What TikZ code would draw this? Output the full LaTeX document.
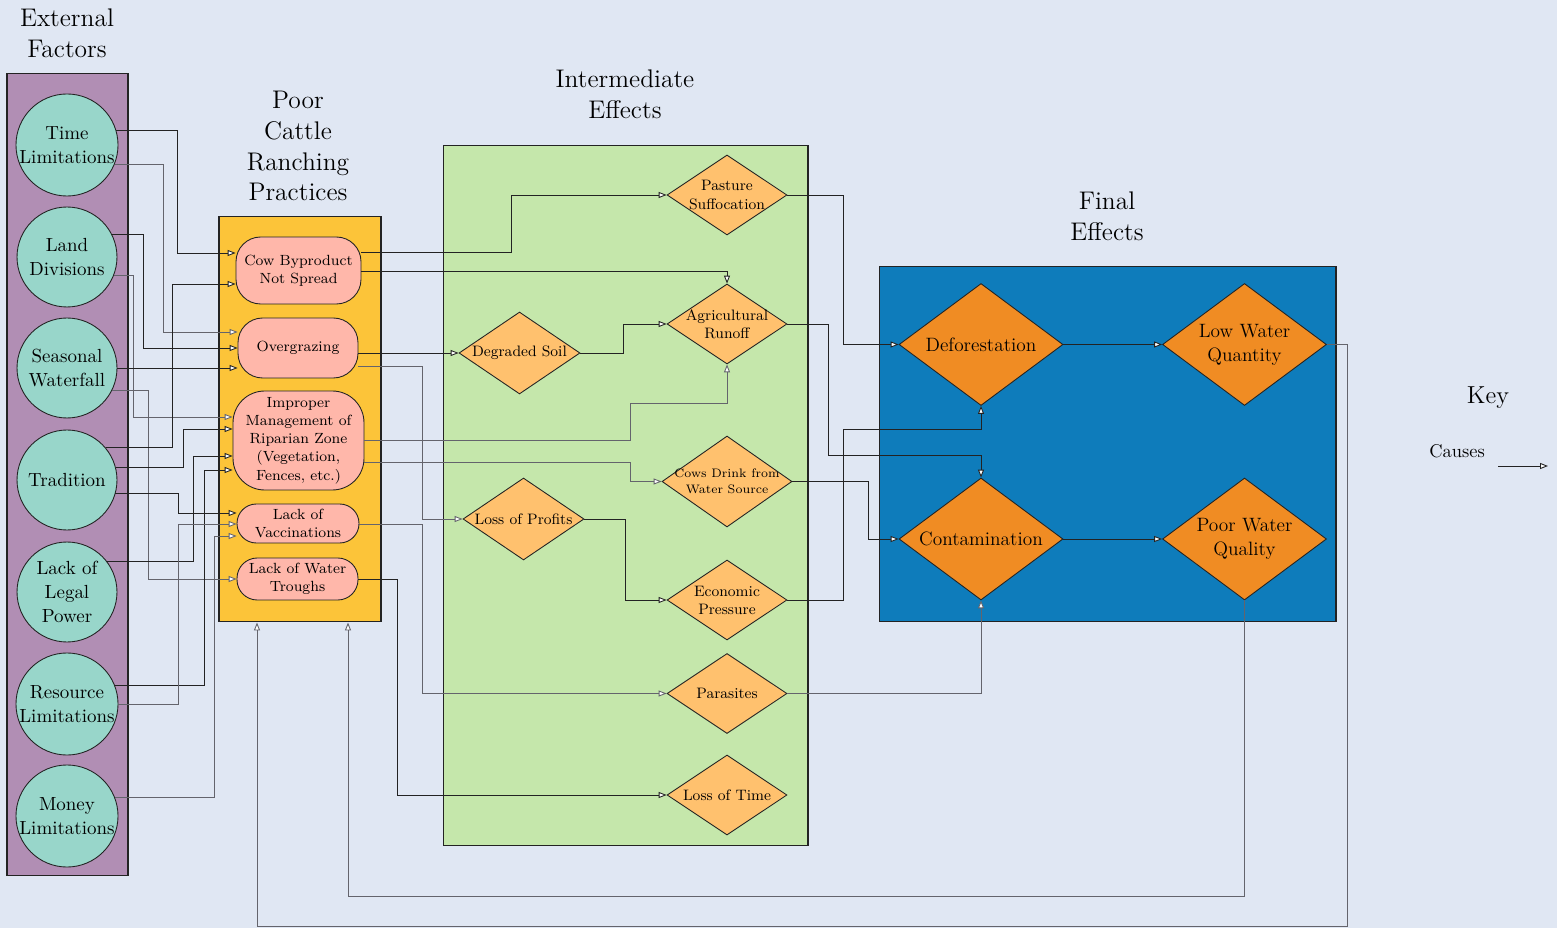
\documentclass[tikz,border=0pt]{standalone}
\usepackage{tikz}
\usetikzlibrary{shapes.geometric, arrows.meta, positioning, calc}
\definecolor{pagebg}{RGB}{224, 231, 243}
\definecolor{factorpurple}{RGB}{177, 142, 180}
\definecolor{factorteal}{RGB}{152, 214, 202}
\definecolor{ranchyellow}{RGB}{252, 196, 57}
\definecolor{ranchpink}{RGB}{255, 183, 170}
\definecolor{midgreen}{RGB}{197, 231, 171}
\definecolor{midorange}{RGB}{255, 193, 110}
\definecolor{finalblue}{RGB}{14, 124, 187}
\definecolor{finalorange}{RGB}{240, 140, 35}
\definecolor{wire}{RGB}{35, 35, 35}
\definecolor{wiregray}{RGB}{100, 100, 108}

\begin{document}
\begin{tikzpicture}[x=0.02cm, y=-0.02cm,
    panel/.style={rectangle, draw=wire, line width=0.6pt, inner sep=0pt},
    title/.style={font=\fontsize{14.5}{17.6}\selectfont, align=center},
    factor/.style={circle, draw=wire, line width=0.5pt, fill=factorteal, minimum size=2cm, inner sep=0pt, align=center, font=\fontsize{10.8}{13.6}\selectfont},
    practice/.style={rectangle, rounded corners=14pt, draw=wire, line width=0.5pt, fill=ranchpink, inner sep=1pt, align=center, font=\fontsize{8.4}{10.4}\selectfont},
    effect/.style={diamond, draw=wire, line width=0.5pt, fill=midorange, minimum width=2.4cm, minimum height=1.6cm, inner sep=0pt},
    final/.style={diamond, draw=wire, line width=0.5pt, fill=finalorange, minimum width=3.28cm, minimum height=2.44cm, inner sep=0pt},
    efftext/.style={font=\fontsize{8.6}{10.3}\selectfont, align=center},
    fintext/.style={font=\fontsize{11}{13.6}\selectfont, align=center},
    cause/.style={draw=wire, line width=0.5pt, -{Triangle[length=4.5pt, width=3.4pt, fill=white]}},
    cause2/.style={cause, draw=wiregray}
]
    \fill[pagebg] (0,0) rectangle (1557,928);
    \useasboundingbox (0,0) rectangle (1557,928);

    % Column panels
    \node[panel, fill=factorpurple, minimum width=2.42cm, minimum height=16.06cm] (factors) at (67.5,474.5) {};
    \node[panel, fill=ranchyellow, minimum width=3.24cm, minimum height=8.12cm] (practices) at (300,419) {};
    \node[panel, fill=midgreen, minimum width=7.3cm, minimum height=14.02cm] (middle) at (625.5,495.5) {};
    \node[panel, fill=finalblue, minimum width=9.14cm, minimum height=7.12cm] (finals) at (1107.5,444) {};

    % Column titles
    \node[title] (exttitle) at (67,33.5) {External\\Factors};
    \node[title] (practitle) at (298,146) {Poor\\Cattle\\Ranching\\Practices};
    \node[title] (midtitle) at (625,94) {Intermediate\\Effects};
    \node[title] (fintitle) at (1107,216) {Final\\Effects};

    % External factors
    \node[factor] (time) at (67,145) {Time\\Limitations};
    \node[factor] (land) at (67,257) {Land\\Divisions};
    \node[factor] (season) at (67,368) {Seasonal\\Waterfall};
    \node[factor] (tradition) at (67,480) {Tradition};
    \node[factor] (legal) at (67,592) {Lack of\\Legal\\Power};
    \node[factor] (resource) at (67,704) {Resource\\Limitations};
    \node[factor] (money) at (67,816) {Money\\Limitations};

    % Ranching practices
    \node[practice, minimum width=2.5cm, minimum height=1.34cm] (cow) at (298.5,270.5) {Cow Byproduct\\Not Spread};
    \node[practice, minimum width=2.4cm, minimum height=1.2cm] (overg) at (298,348) {Overgrazing};
    \node[practice, rounded corners=18pt, minimum width=2.62cm, minimum height=1.98cm] (improper) at (298.5,440.5) {Improper\\Management of\\Riparian Zone\\(Vegetation,\\Fences, etc.)};
    \node[practice, rounded corners=11pt, minimum width=2.44cm, minimum height=0.78cm] (vacc) at (298,523.5) {Lack of\\Vaccinations};
    \node[practice, rounded corners=11.5pt, minimum width=2.42cm, minimum height=0.84cm] (troughs) at (297.5,579) {Lack of Water\\Troughs};

    % Intermediate effects
    \node[effect, label={[efftext]center:Pasture\\Suffocation}] (pasture) at (727,195) {};
    \node[effect, label={[efftext]center:Agricultural\\Runoff}] (runoff) at (727,324) {};
    \node[effect, minimum width=2.42cm, minimum height=1.64cm, label={[efftext]center:Degraded Soil}] (soil) at (519.5,353) {};
    \node[effect, minimum width=2.6cm, minimum height=1.82cm, label={[efftext, font=\fontsize{7}{8.9}\selectfont]center:Cows Drink from\\Water Source}] (drink) at (727,481.5) {};
    \node[effect, minimum width=2.42cm, minimum height=1.64cm, label={[efftext]center:Loss of Profits}] (profits) at (523.5,519) {};
    \node[effect, label={[efftext]center:Economic\\Pressure}] (econ) at (727,600) {};
    \node[effect, label={[efftext]center:Parasites}] (parasites) at (727,693.5) {};
    \node[effect, label={[efftext]center:Loss of Time}] (losstime) at (727,795) {};

    % Final effects
    \node[final, label={[fintext]center:Deforestation}] (defor) at (981,344.5) {};
    \node[final, label={[fintext]center:Low Water\\Quantity}] (lowqty) at (1244.5,344.5) {};
    \node[final, label={[fintext]center:Contamination}] (contam) at (981,539) {};
    \node[final, label={[fintext]center:Poor Water\\Quality}] (poorq) at (1244.5,539) {};

    % External factors -> practices
    \draw[cause] (time.16) -| (177,253) -- (cow.west |- 0,253);
    \draw[cause2] (time.-22) -| (163,332) -- (overg.west |- 0,332);
    \draw[cause] (land.27) -| (143,348) -- (overg.west |- 0,348);
    \draw[cause2] (land.-22) -| (133,417) -- (improper.west |- 0,417);
    \draw[cause] (season.0) -- (overg.west |- 0,368);
    \draw[cause2] (season.-27) -| (148,579) -- (troughs.west |- 0,579);
    \draw[cause] (tradition.40) -| (172,284) -- (cow.west |- 0,284);
    \draw[cause] (tradition.14) -| (183,429) -- (improper.west |- 0,429);
    \draw[cause] (tradition.-16) -| (178,513) -- (vacc.west |- 0,513);
    \draw[cause] (legal.38) -| (193,456) -- (improper.west |- 0,456);
    \draw[cause] (resource.21) -| (204,470) -- (improper.west |- 0,470);
    \draw[cause2] (resource.0) -| (178,524) -- (vacc.west |- 0,524);
    \draw[cause2] (money.21) -| (214,536) -- (vacc.west |- 0,536);

    % Practices -> intermediate effects
    \draw[cause] (cow.east |- 0,252) -| (511,195) -- (pasture.west);
    \draw[cause] (cow.east |- 0,271) -| (runoff.north);
    \draw[cause] (overg.east |- 0,353) -- (soil.west);
    \draw[cause2] (overg.east |- 0,366) -| (422,519) -- (profits.west);
    \draw[cause] (soil.east) -| (623,324) -- (runoff.west);
    \draw[cause2] (improper.east |- 0,440) -| (630,403) -| (runoff.south);
    \draw[cause2] (improper.east |- 0,462) -| (630,481.5) -- (drink.west);
    \draw[cause2] (vacc.east |- 0,524) -| (422,693.5) -- (parasites.west);
    \draw[cause] (troughs.east |- 0,579) -| (397,795) -- (losstime.west);
    \draw[cause] (profits.east) -| (625,600) -- (econ.west);

    % Intermediate -> final effects
    \draw[cause] (pasture.east) -| (843,344.5) -- (defor.west);
    \draw[cause] (runoff.east) -| (828,455) -| (contam.north);
    \draw[cause] (drink.east) -| (868,539) -- (contam.west);
    \draw[cause] (econ.east) -| (843,429) -| (defor.south);
    \draw[cause2] (parasites.east) -| (contam.south);
    \draw[cause] (defor.east) -- (lowqty.west);
    \draw[cause] (contam.east) -- (poorq.west);

    % Feedback into the practices
    \draw[cause2] (lowqty.east) -| (1347,926) -| (257,0 |- practices.south);
    \draw[cause2] (poorq.south) -- (poorq.south |- 0,896) -| (348,0 |- practices.south);

    % Key
    \node[title, font=\fontsize{14}{17}\selectfont] (keytitle) at (1488,398) {Key};
    \node[font=\fontsize{10.5}{12.6}\selectfont] (keycauses) at (1457,451) {Causes};
    \coordinate (keyfrom) at (1498,466);
    \coordinate (keyto) at (1548,466);
    \draw[cause] (keyfrom) -- (keyto);
\end{tikzpicture}
\end{document}
